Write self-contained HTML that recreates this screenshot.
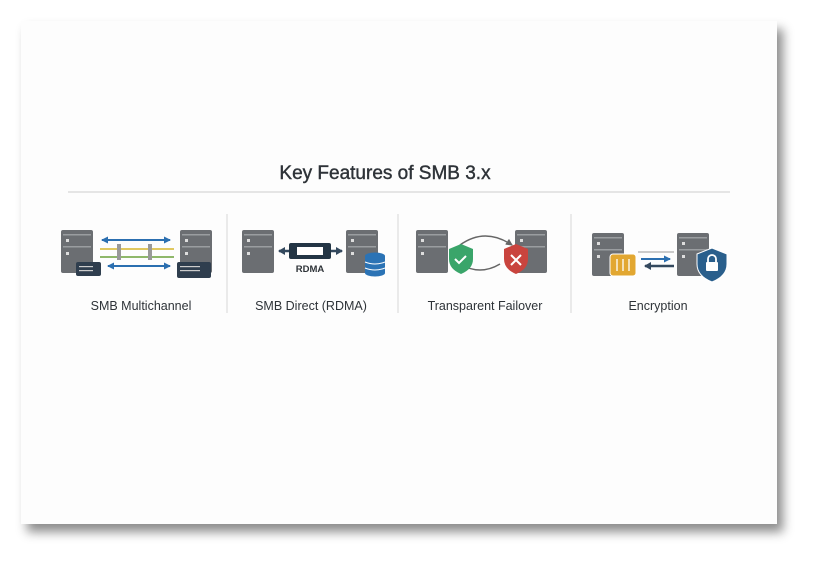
<!DOCTYPE html>
<html><head><style>
body{margin:0;width:819px;height:567px;background:#fff;overflow:hidden;font-family:"Liberation Sans","DejaVu Sans",sans-serif}
.card{position:absolute;left:21px;top:21px;width:756px;height:503px;background:#fdfdfd;box-shadow:6px 8px 10px rgba(0,0,0,0.45)}
svg{position:absolute;left:0;top:0}
</style></head><body>
<div class="card"></div>
<svg width="819" height="567" viewBox="0 0 819 567">
<defs>
<marker id="ab" markerUnits="userSpaceOnUse" markerWidth="7" markerHeight="7" refX="6" refY="3.5" orient="auto-start-reverse"><path d="M0,0L7,3.5L0,7z" fill="#2b6fb0"/></marker>
<marker id="ad" markerUnits="userSpaceOnUse" markerWidth="7" markerHeight="8" refX="6" refY="4" orient="auto-start-reverse"><path d="M0,0L7,4L0,8z" fill="#34495e"/></marker>
<marker id="ag" markerUnits="userSpaceOnUse" markerWidth="7" markerHeight="7" refX="6" refY="3.5" orient="auto"><path d="M0,0L7,3.5L0,7z" fill="#666"/></marker>
<g id="srv"><rect x="0" y="0" width="32" height="43" rx="2" fill="#6b6e72"/><rect x="2" y="4" width="28" height="1.5" fill="#9a9da0"/><rect x="2" y="16" width="28" height="1.5" fill="#9a9da0"/><rect x="5" y="9" width="3" height="3" fill="#ddd"/><rect x="5" y="22" width="3" height="3" fill="#ddd"/></g>
</defs>
<text x="385" y="179" text-anchor="middle" font-size="19" fill="#2e3338" stroke="#2e3338" stroke-width="0.4">Key Features of SMB 3.x</text>
<line x1="68" y1="192" x2="730" y2="192" stroke="#ddd" stroke-width="1.5"/>
<g stroke="#ddd" stroke-width="1.2"><line x1="227" y1="214" x2="227" y2="313"/><line x1="398" y1="214" x2="398" y2="313"/><line x1="571" y1="214" x2="571" y2="313"/></g>
<!-- multichannel -->
<use href="#srv" x="61" y="230"/><use href="#srv" x="180" y="230"/>
<line x1="102" y1="240" x2="170" y2="240" stroke="#2b6fb0" stroke-width="2" marker-start="url(#ab)" marker-end="url(#ab)"/>
<line x1="100" y1="249" x2="174" y2="249" stroke="#e0c860" stroke-width="2"/>
<line x1="100" y1="257" x2="174" y2="257" stroke="#8fb86a" stroke-width="2"/>
<rect x="117" y="244" width="4" height="16" fill="#999"/><rect x="148" y="244" width="4" height="16" fill="#999"/>
<line x1="108" y1="266" x2="170" y2="266" stroke="#2b6fb0" stroke-width="2" marker-start="url(#ab)" marker-end="url(#ab)"/>
<rect x="76" y="262" width="25" height="14" rx="2" fill="#2f3e4e"/><rect x="79" y="266" width="14" height="1.2" fill="#ccc"/><rect x="79" y="270" width="14" height="1.2" fill="#ccc"/>
<rect x="177" y="262" width="34" height="16" rx="2" fill="#2f3e4e"/><rect x="180" y="266" width="20" height="1.2" fill="#ccc"/><rect x="180" y="270" width="20" height="1.2" fill="#ccc"/>
<text x="141" y="310" text-anchor="middle" font-size="12.5" fill="#2e3338">SMB Multichannel</text>
<!-- RDMA -->
<use href="#srv" x="242" y="230"/><use href="#srv" x="346" y="230"/>
<line x1="279" y1="251" x2="342" y2="251" stroke="#34495e" stroke-width="2.5" marker-start="url(#ad)" marker-end="url(#ad)"/>
<rect x="289" y="243" width="42" height="16" rx="2" fill="#233545"/><rect x="297" y="247" width="26" height="8" fill="#fff"/>
<text x="310" y="272" text-anchor="middle" font-size="9.5" font-weight="bold" fill="#2e3338">RDMA</text>
<g fill="#2b73b5"><ellipse cx="375" cy="256" rx="10" ry="3.5"/><rect x="365" y="256" width="20" height="17"/><ellipse cx="375" cy="273" rx="10" ry="3.5"/></g>
<g stroke="#fff" stroke-width="1" fill="none"><path d="M365,262q10,4 20,0"/><path d="M365,268q10,4 20,0"/></g>
<text x="311" y="310" text-anchor="middle" font-size="12.5" fill="#2e3338">SMB Direct (RDMA)</text>
<!-- failover -->
<use href="#srv" x="416" y="230"/><use href="#srv" x="515" y="230"/>
<path d="M460,245q25,-18 52,0" stroke="#666" stroke-width="1.5" fill="none" marker-end="url(#ag)"/>
<path d="M500,264q-20,12 -40,0" stroke="#666" stroke-width="1.5" fill="none" marker-end="url(#ag)"/>
<path d="M449,249l12,-5 12,5v10q0,10 -12,15q-12,-5 -12,-15z" fill="#3aa56a"/>
<path d="M455,259l4,4 7,-7" stroke="#fff" stroke-width="2" fill="none"/>
<path d="M504,249l12,-5 12,5v10q0,10 -12,15q-12,-5 -12,-15z" fill="#c9443e"/>
<path d="M511,255l10,10M521,255l-10,10" stroke="#fff" stroke-width="2"/>
<text x="485" y="310" text-anchor="middle" font-size="12.5" fill="#2e3338">Transparent Failover</text>
<!-- encryption -->
<use href="#srv" x="592" y="233"/><use href="#srv" x="677" y="233"/>
<rect x="610" y="254" width="26" height="22" rx="3" fill="#e2a731" stroke="#fff" stroke-width="1"/>
<g stroke="#fff" stroke-width="1.3"><line x1="617" y1="259" x2="617" y2="271"/><line x1="623" y1="259" x2="623" y2="271"/><line x1="629" y1="259" x2="629" y2="271"/></g>
<line x1="638" y1="252" x2="674" y2="252" stroke="#999" stroke-width="1"/>
<line x1="641" y1="259" x2="670" y2="259" stroke="#2b6fb0" stroke-width="2" marker-end="url(#ab)"/>
<line x1="645" y1="266" x2="674" y2="266" stroke="#34495e" stroke-width="2.5" marker-start="url(#ad)"/>
<path d="M697,254l15,-6 15,6v10q0,12 -15,18q-15,-6 -15,-18z" fill="#2a5f8c" stroke="#fff" stroke-width="1"/>
<rect x="706" y="262" width="12" height="9" rx="1" fill="#fff"/><path d="M708,262v-3a4,4 0 0 1 8,0v3" stroke="#fff" stroke-width="1.8" fill="none"/>
<text x="658" y="310" text-anchor="middle" font-size="12.5" fill="#2e3338">Encryption</text>
</svg>
</body></html>
